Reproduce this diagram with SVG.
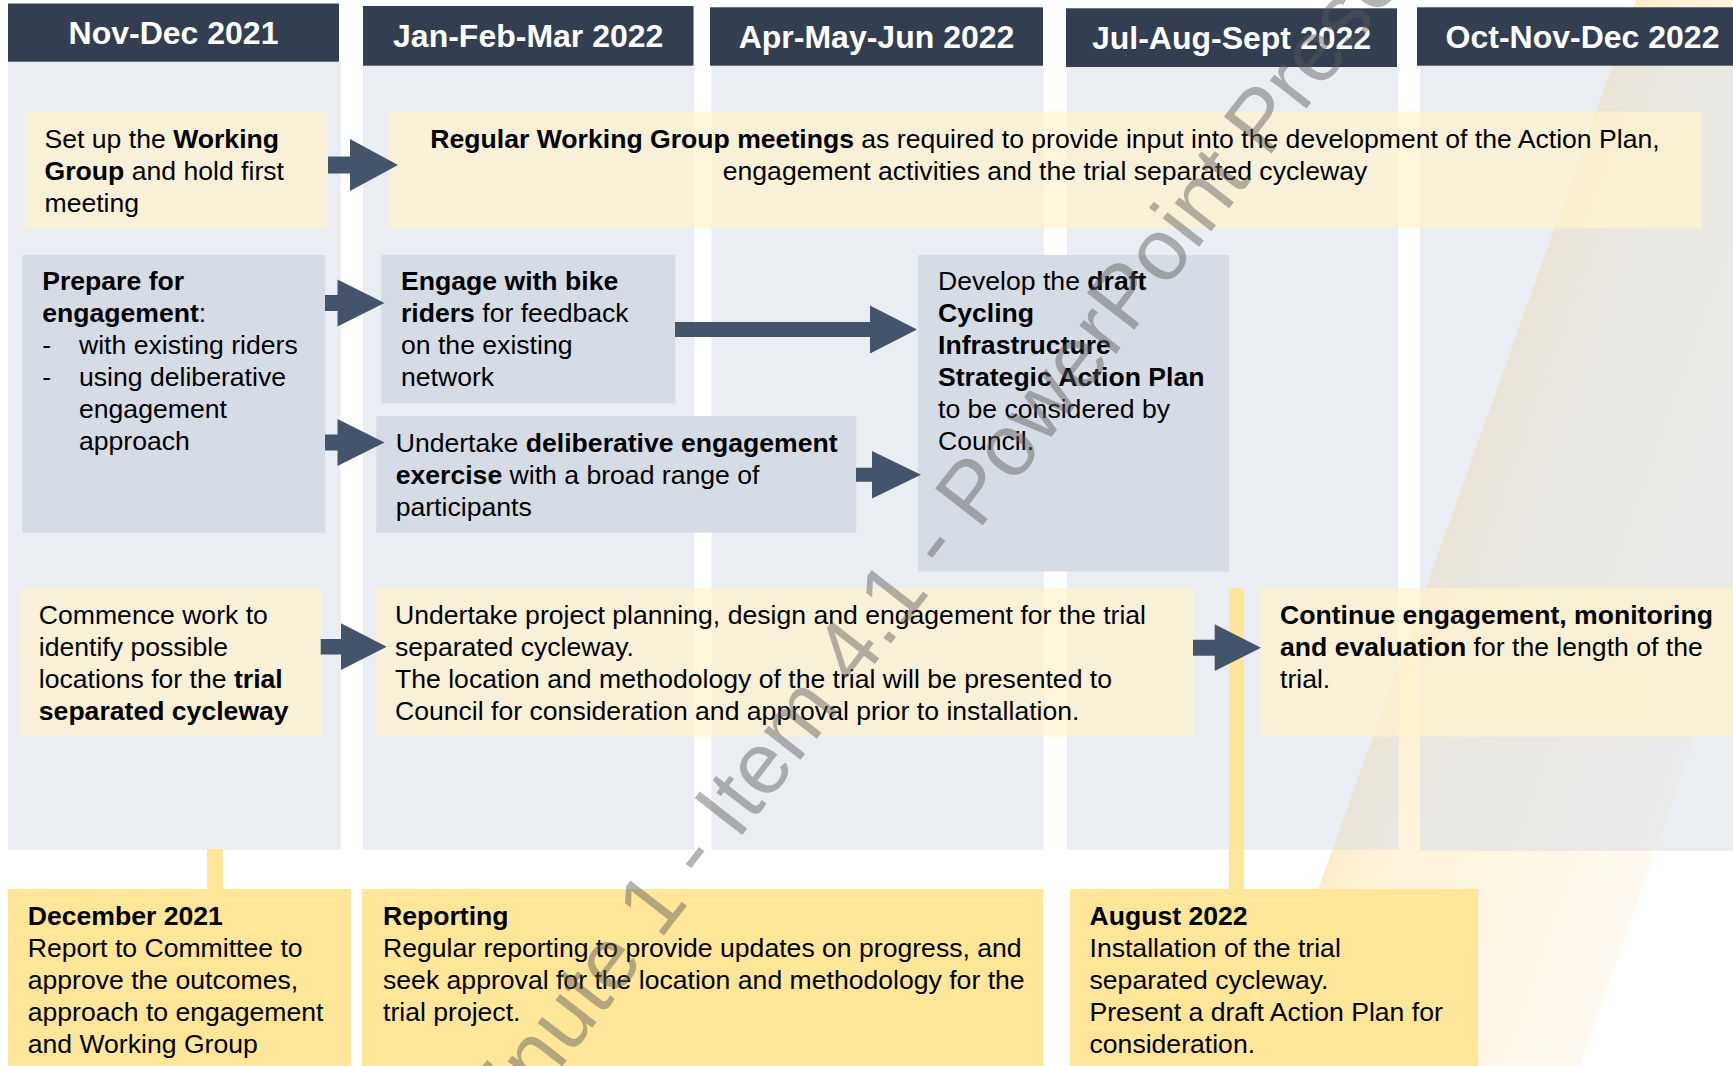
<svg xmlns="http://www.w3.org/2000/svg" width="1733" height="1066" viewBox="0 0 1733 1066">
<defs>
<linearGradient id="band" gradientUnits="userSpaceOnUse" x1="1332" y1="850" x2="1636" y2="959">
<stop offset="0" stop-color="#fcedc8"/>
<stop offset="0.15" stop-color="#fdf2d9"/>
<stop offset="1" stop-color="#fffaf3"/>
</linearGradient>
<style>
.hdr{fill:#333f50}
.hdrt{font-family:'Liberation Sans',Arial,sans-serif;font-weight:bold;font-size:32px;fill:#ffffff;text-anchor:middle}
.col{fill:#d6dce5;fill-opacity:0.5}
.pale{fill:#fff2cc;fill-opacity:0.7}
.blue{fill:#d6dce5}
.gold{fill:#ffe699}
.t{font-family:'Liberation Sans',Arial,sans-serif;font-size:26.6px;fill:#000000}
.b{font-weight:bold}
.arrow{fill:#44546a}
.wm{font-family:'Liberation Sans',Arial,sans-serif;font-size:87.3px;fill:#595959;fill-opacity:0.45}
</style>
</defs>
<rect x="0" y="0" width="1733" height="1066" fill="#ffffff"/>
<polygon points="1636,0 1953,0 1580,1066 1255,1066" fill="url(#band)"/>

<g id="columns">
<rect class="col" x="8" y="61.7" width="332.7" height="787.8"/>
<rect class="col" x="363" y="65.7" width="331.7" height="783.8"/>
<rect class="col" x="711.5" y="65.7" width="332.2" height="783.8"/>
<rect class="col" x="1067" y="67" width="331.7" height="782.5"/>
<rect class="col" x="1420" y="65.7" width="331" height="785"/>
</g>

<g id="headers">
<g id="h1"><rect class="hdr" x="8" y="3.5" width="331" height="58.2"/><text class="hdrt" x="173.5" y="44.1">Nov-Dec 2021</text></g>
<g id="h2"><rect class="hdr" x="363" y="6" width="330.5" height="59.7"/><text class="hdrt" x="528.2" y="47.3">Jan-Feb-Mar 2022</text></g>
<g id="h3"><rect class="hdr" x="710" y="7.3" width="333" height="58.4"/><text class="hdrt" x="876.5" y="48">Apr-May-Jun 2022</text></g>
<g id="h4"><rect class="hdr" x="1066" y="8.3" width="331" height="58.7"/><text class="hdrt" x="1231.5" y="49.2">Jul-Aug-Sept 2022</text></g>
<g id="h5"><rect class="hdr" x="1417" y="7.3" width="331" height="58.4"/><text class="hdrt" x="1582.5" y="48">Oct-Nov-Dec 2022</text></g>
</g>

<g id="connectors">
<rect class="gold" x="207" y="849" width="16" height="41"/>
<rect class="gold" x="1229" y="588.3" width="15" height="301"/>
</g>

<g id="setup">
<rect class="pale" x="25" y="111.5" width="302.4" height="117"/>
<text class="t" x="44.5" y="147.5">Set up the <tspan class="b">Working</tspan></text>
<text class="t" x="44.5" y="179.5"><tspan class="b">Group</tspan> and hold first</text>
<text class="t" x="44.5" y="211.5">meeting</text>
</g>

<g id="regular">
<rect class="pale" x="388.4" y="111.5" width="1313.6" height="117"/>
<text class="t" x="1045" y="147.5" text-anchor="middle"><tspan class="b">Regular Working Group meetings</tspan> as required to provide input into the development of the Action Plan,</text>
<text class="t" x="1045" y="179.5" text-anchor="middle">engagement activities and the trial separated cycleway</text>
</g>

<g id="prepare">
<rect class="blue" x="22.2" y="255" width="303" height="277.7"/>
<text class="t" x="42.2" y="290"><tspan class="b">Prepare for</tspan></text>
<text class="t" x="42.2" y="322"><tspan class="b">engagement</tspan>:</text>
<text class="t" x="42.2" y="354">-</text>
<text class="t" x="79" y="354">with existing riders</text>
<text class="t" x="42.2" y="386">-</text>
<text class="t" x="79" y="386">using deliberative</text>
<text class="t" x="79" y="418">engagement</text>
<text class="t" x="79" y="450">approach</text>
</g>

<g id="engage">
<rect class="blue" x="381.2" y="255" width="294.2" height="148.3"/>
<text class="t" x="401" y="290"><tspan class="b">Engage with bike</tspan></text>
<text class="t" x="401" y="322"><tspan class="b">riders</tspan> for feedback</text>
<text class="t" x="401" y="354">on the existing</text>
<text class="t" x="401" y="386">network</text>
</g>

<g id="deliberative">
<rect class="blue" x="376.3" y="416" width="480" height="116.7"/>
<text class="t" x="395.7" y="452">Undertake <tspan class="b">deliberative engagement</tspan></text>
<text class="t" x="395.7" y="484"><tspan class="b">exercise</tspan> with a broad range of</text>
<text class="t" x="395.7" y="516">participants</text>
</g>

<g id="develop">
<rect class="blue" x="918" y="255" width="311" height="316.5"/>
<text class="t" x="938" y="290">Develop the <tspan class="b">draft</tspan></text>
<text class="t" x="938" y="322"><tspan class="b">Cycling</tspan></text>
<text class="t" x="938" y="354"><tspan class="b">Infrastructure</tspan></text>
<text class="t" x="938" y="386"><tspan class="b">Strategic Action Plan</tspan></text>
<text class="t" x="938" y="418">to be considered by</text>
<text class="t" x="938" y="450">Council.</text>
</g>

<g id="commence">
<rect class="pale" x="20" y="588.3" width="301.9" height="148.4"/>
<text class="t" x="38.8" y="623.5">Commence work to</text>
<text class="t" x="38.8" y="655.5">identify possible</text>
<text class="t" x="38.8" y="687.5">locations for the <tspan class="b">trial</tspan></text>
<text class="t" x="38.8" y="719.5"><tspan class="b">separated cycleway</tspan></text>
</g>

<g id="undertake">
<rect class="pale" x="376.3" y="588.3" width="817.7" height="148.4"/>
<text class="t" x="395" y="623.5">Undertake project planning, design and engagement for the trial</text>
<text class="t" x="395" y="655.5">separated cycleway.</text>
<text class="t" x="395" y="687.5">The location and methodology of the trial will be presented to</text>
<text class="t" x="395" y="719.5">Council for consideration and approval prior to installation.</text>
</g>

<g id="continue">
<rect class="pale" x="1260" y="588.3" width="480" height="148.4"/>
<text class="t" x="1280" y="623.5"><tspan class="b">Continue engagement, monitoring</tspan></text>
<text class="t" x="1280" y="655.5"><tspan class="b">and evaluation</tspan> for the length of the</text>
<text class="t" x="1280" y="687.5">trial.</text>
</g>

<g id="december">
<rect class="gold" x="7.8" y="889" width="343" height="180"/>
<text class="t" x="27.7" y="925"><tspan class="b">December 2021</tspan></text>
<text class="t" x="27.7" y="957">Report to Committee to</text>
<text class="t" x="27.7" y="989">approve the outcomes,</text>
<text class="t" x="27.7" y="1021">approach to engagement</text>
<text class="t" x="27.7" y="1053">and Working Group</text>
</g>

<g id="reporting">
<rect class="gold" x="361.8" y="889" width="681.6" height="180"/>
<text class="t" x="383" y="925"><tspan class="b">Reporting</tspan></text>
<text class="t" x="383" y="957">Regular reporting to provide updates on progress, and</text>
<text class="t" x="383" y="989">seek approval for the location and methodology for the</text>
<text class="t" x="383" y="1021">trial project.</text>
</g>

<g id="august">
<rect class="gold" x="1069.9" y="889" width="408.1" height="180"/>
<text class="t" x="1089.5" y="925"><tspan class="b">August 2022</tspan></text>
<text class="t" x="1089.5" y="957">Installation of the trial</text>
<text class="t" x="1089.5" y="989">separated cycleway.</text>
<text class="t" x="1089.5" y="1021">Present a draft Action Plan for</text>
<text class="t" x="1089.5" y="1053">consideration.</text>
</g>

<g id="arrows">
<path class="arrow" d="M328,156.5 H350 V139 L398,165 L350,191 V173.5 H328 Z"/>
<path class="arrow" d="M325,295 H337.5 V279.5 L384.5,303 L337.5,326.5 V311 H325 Z"/>
<path class="arrow" d="M325,434.5 H337.5 V419 L384.5,442.5 L337.5,466 V450.5 H325 Z"/>
<path class="arrow" d="M675,322 H870 V305.5 L917,329.5 L870,353.5 V337 H675 Z"/>
<path class="arrow" d="M856,467.7 H872 V451 L921,474.7 L872,498.4 V481.7 H856 Z"/>
<path class="arrow" d="M320.7,639 H341 V623.3 L386.7,646.7 L341,670 V654.4 H320.7 Z"/>
<path class="arrow" d="M1193,639.7 H1214.7 V624.3 L1261,647.7 L1214.7,671 V655.7 H1193 Z"/>
</g>

<text class="wm" transform="translate(484.1,1166.9) rotate(-52.15)">Minute 1 - Item 4.1 - PowerPoint Presentation</text>
</svg>
